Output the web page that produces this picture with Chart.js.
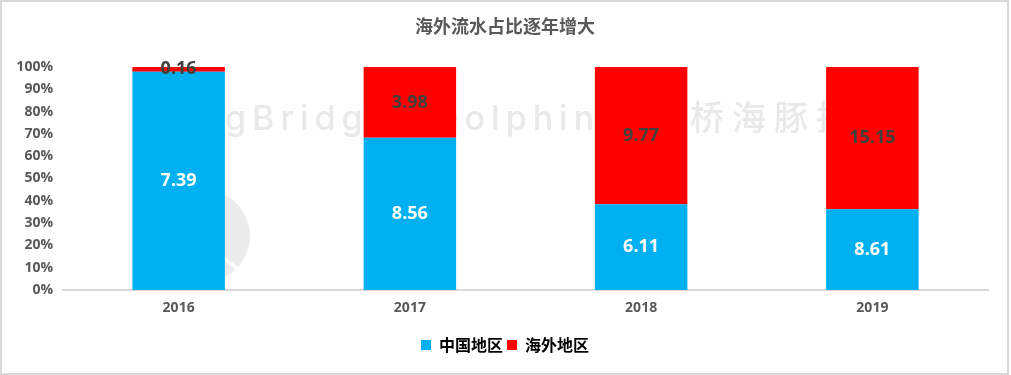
<!DOCTYPE html>
<html>
<head>
<meta charset="utf-8">
<script src="https://cdn.jsdelivr.net/npm/chart.js@4.4.1/dist/chart.umd.min.js"></script>
<style>
  html, body { margin: 0; padding: 0; background: #ffffff; }
  canvas { display: block; }
</style>
</head>
<body>
<canvas id="c" width="1011" height="375"></canvas>
<script>
// ---- data ----
const categories = ['2016', '2017', '2018', '2019'];
const chinaValues = [7.39, 8.56, 6.11, 8.61];      // 中国地区
const overseasValues = [0.16, 3.98, 9.77, 15.15];  // 海外地区
const seriesNames = ['中国地区', '海外地区'];
const titleText = '海外流水占比逐年增大';
const yTicks = [0, 10, 20, 30, 40, 50, 60, 70, 80, 90, 100];

// 100% stacking shares
const totals = categories.map((_, i) => chinaValues[i] + overseasValues[i]);
const chinaPct = chinaValues.map((v, i) => v / totals[i] * 100);
const overseasPct = overseasValues.map((v, i) => v / totals[i] * 100);

const FONT = "'Open Sans', 'Noto Sans CJK SC', sans-serif";
const CJK = "'Noto Sans CJK SC', 'Open Sans', sans-serif";

const borderPlugin = {
  id: 'frame',
  afterDraw(chart) {
    const ctx = chart.ctx;
    ctx.save();
    ctx.strokeStyle = '#d9d9d9';
    ctx.lineWidth = 2;
    ctx.strokeRect(1, 1, chart.width - 4, chart.height - 2);
    ctx.restore();
  }
};

const watermarkPlugin = {
  id: 'watermark',
  beforeDatasetsDraw(chart) {
    const ctx = chart.ctx;
    const a = chart.chartArea;
    ctx.save();
    ctx.fillStyle = '#ececec';
    // logo circle
    ctx.beginPath();
    ctx.arc(a.left + 141, a.top + 169, 46, 0, Math.PI * 2);
    ctx.fill();
    ctx.strokeStyle = '#ffffff';
    ctx.lineWidth = 4;
    ctx.beginPath();
    ctx.moveTo(a.left + 150, a.top + 183);
    ctx.lineTo(a.left + 180, a.top + 206);
    ctx.stroke();
    // text
    ctx.fillStyle = '#e9e9e9';
    ctx.textBaseline = 'alphabetic';
    ctx.textAlign = 'left';
    try { ctx.letterSpacing = '6px'; } catch (e) {}
    ctx.font = "500 34px Inter, 'Open Sans', sans-serif";
    ctx.fillText('gBridge', a.left + 162, a.top + 63);
    ctx.fillText('Dolphin', a.left + 371, a.top + 63);
    try { ctx.letterSpacing = '8px'; } catch (e) {}
    ctx.font = "500 34px 'Noto Sans CJK SC', sans-serif";
    ctx.fillText('长桥海豚投研', a.left + 585, a.top + 63);
    ctx.restore();
  }
};

const labelPlugin = {
  id: 'segLabels',
  afterDatasetsDraw(chart) {
    const ctx = chart.ctx;
    const sources = [chinaValues, overseasValues];
    const colors = ['#ffffff', '#404040'];
    ctx.save();
    ctx.font = 'bold 18px ' + FONT;
    ctx.textAlign = 'center';
    ctx.textBaseline = 'middle';
    chart.data.datasets.forEach((ds, di) => {
      const meta = chart.getDatasetMeta(di);
      meta.data.forEach((el, i) => {
        const y = (el.y + el.base) / 2;
        ctx.fillStyle = colors[di];
        ctx.fillText(sources[di][i].toFixed(2), el.x, y);
      });
    });
    ctx.restore();
  }
};

new Chart(document.getElementById('c'), {
  type: 'bar',
  data: {
    labels: categories,
    datasets: [
      { label: seriesNames[0], data: chinaPct, backgroundColor: '#00B0F0', borderWidth: 0 },
      { label: seriesNames[1], data: overseasPct, backgroundColor: '#FF0000', borderWidth: 0 }
    ]
  },
  options: {
    responsive: false,
    animation: false,
    devicePixelRatio: 1,
    layout: { padding: { left: 11, right: 12, top: 0, bottom: 12 } },
    datasets: { bar: { categoryPercentage: 1.0, barPercentage: 0.4 } },
    scales: {
      x: {
        stacked: true,
        grid: { display: false, drawTicks: false },
        border: { display: true, color: '#d9d9d9', width: 2 },
        ticks: { color: '#595959', font: { family: FONT, size: 14, weight: 'bold' }, padding: 10 },
        afterFit(scale) { scale.height = 43; }
      },
      y: {
        stacked: true,
        min: 0,
        max: 100,
        grid: { display: false, drawTicks: false },
        border: { display: false },
        afterBuildTicks(scale) { scale.ticks = yTicks.map(v => ({ value: v })); },
        ticks: {
          color: '#595959',
          font: { family: FONT, size: 14, weight: 'bold' },
          padding: 10,
          callback: (v) => v + '%'
        },
        afterFit(scale) { scale.width = 52; }
      },
      y2: {
        position: 'right',
        min: 0,
        max: 100,
        display: true,
        grid: { display: false, drawTicks: false },
        border: { display: false },
        ticks: { display: false },
        afterFit(scale) { scale.width = 11; }
      }
    },
    plugins: {
      title: {
        display: true,
        text: titleText,
        color: '#595959',
        font: { family: CJK, size: 18, weight: 'bold' },
        padding: { top: 15, bottom: 30.4 }
      },
      legend: {
        display: true,
        position: 'bottom',
        labels: {
          boxWidth: 10,
          boxHeight: 10,
          padding: 4,
          color: '#000000',
          font: { family: CJK, size: 16, weight: 'bold' }
        }
      },
      tooltip: { enabled: false }
    }
  },
  plugins: [watermarkPlugin, labelPlugin, borderPlugin]
});
</script>
</body>
</html>
